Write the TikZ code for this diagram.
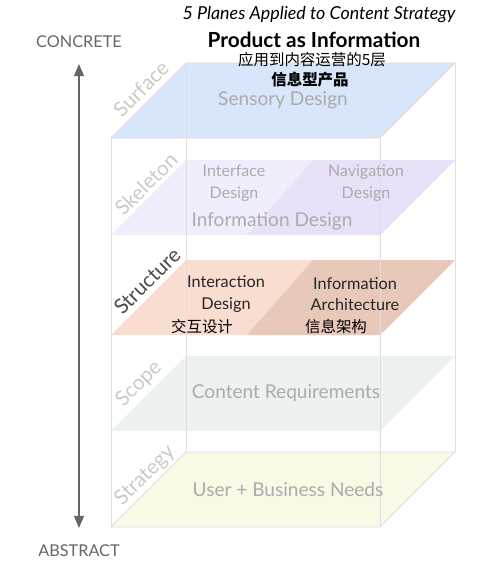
\documentclass[tikz,border=0pt]{standalone}
\usepackage{fontspec}
\setmainfont{Lato}
\newfontfamily\cjk{Noto Sans CJK SC}
\usetikzlibrary{arrows,positioning}
\definecolor{edgegray}{HTML}{DEDEDE}
\definecolor{labgray}{HTML}{ABABAB}
\definecolor{sidegray}{HTML}{CACACA}
\definecolor{axisgray}{HTML}{666666}
\definecolor{surfblue}{HTML}{D7E6FA}
\definecolor{skellite}{HTML}{F2EDFC}
\definecolor{skeldark}{HTML}{EAE1F8}
\definecolor{strulite}{HTML}{F9DDD0}
\definecolor{strudark}{HTML}{E8C8B9}
\definecolor{scopegreen}{HTML}{EDF2EE}
\definecolor{stratyellow}{HTML}{FBF8E6}
\newcommand{\layerplane}[2]{\fill[#1] (111,#2+75) -- (380,#2+75) -- (455,#2) -- (186,#2) -- cycle;}
\tikzset
{
    planelabel/.style = {text=labgray, align=center, font=\fontsize{14.3}{16}\selectfont},
    sublabel/.style   = {text=labgray, align=center, font=\fontsize{12}{16}\selectfont},
    darklabel/.style  = {text=black!85, align=center, font=\fontsize{12.2}{16}\selectfont},
    sidelabel/.style  = {text=sidegray, rotate=45, inner sep=0pt, font=\fontsize{15.5}{16}\selectfont},
    axislabel/.style  = {text=axisgray, font=\fontsize{12.2}{14}\selectfont},
    cjklabel/.style   = {text=black, font=\cjk\fontsize{11.6}{13}\selectfont},
    boxedge/.style    = {draw=edgegray, line width=0.7pt}
}

\begin{document}
\begin{tikzpicture}[x=0.75pt, y=-0.75pt, >=triangle 45]
    \useasboundingbox (0,0) rectangle (498,565);
    % planes
    \layerplane{surfblue}{63}
    \layerplane{skellite}{160}
    \fill[skeldark] (247,235) -- (380,235) -- (455,160) -- (313,160) -- cycle;
    \layerplane{strulite}{260}
    \fill[strudark] (247,335) -- (380,335) -- (455,260) -- (313,260) -- cycle;
    \layerplane{scopegreen}{356}
    \layerplane{stratyellow}{452}
    % box
    \foreach \x/\y in {111/138, 186/63, 380/138, 455/63}
    {
        \draw[boxedge] (\x,\y) -- (\x,\y+389);
    }
    \draw[boxedge] (111,138) -- (380,138) -- (455,63) -- (186,63) -- cycle;
    \draw[boxedge] (111,527) -- (380,527) -- (455,452) -- (186,452) -- cycle;

    % titles
    \node[font=\itshape\fontsize{13.4}{15}\selectfont] (subtitle) at (319,15) {5 Planes Applied to Content Strategy};
    \node[font=\bfseries\fontsize{15.6}{18}\selectfont] (title) at (314,40) {Product as Information};
    \node[cjklabel] (cntitle) at (312,60) {应用到内容运营的5层};
    \node[cjklabel, font=\cjk\bfseries\fontsize{11.6}{13}\selectfont] (cnproduct) at (310,80) {信息型产品};

    % axis
    \node[axislabel] (concrete) at (79,42) {CONCRETE};
    \node[axislabel] (abstract) at (79,551) {ABSTRACT};
    \coordinate (axistop) at (79,64);
    \coordinate (axisbot) at (79,528);
    \draw[<->, axisgray, line width=1.1pt] (axistop) -- (axisbot);

    % side names
    \node[sidelabel] (surface)   at (141,89) {Surface};
    \node[sidelabel] (skeleton)  at (146,184) {Skeleton};
    \node[sidelabel, text=black!70] (structure) at (147,281) {Structure};
    \node[sidelabel] (scope)     at (139,384) {Scope};
    \node[sidelabel] (strategy)  at (145,476) {Strategy};

    % plane contents
    \node[planelabel] (sensory) at (283,100) {Sensory Design};
    \node[sublabel] (interface) at (234,183) {Interface\\Design};
    \node[sublabel] (navigation) at (366,183) {Navigation\\Design};
    \node[planelabel] (infodesign) at (272,221) {Information Design};
    \node[darklabel] (interaction) at (226,294) {Interaction\\Design};
    \node[darklabel] (infoarch) at (355,294) {Information\\Architecture};
    \node[cjklabel] (cninteraction) at (202,327) {交互设计};
    \node[cjklabel] (cninfoarch) at (336,327) {信息架构};
    \node[planelabel] (content) at (286,393) {Content Requirements};
    \node[planelabel] (needs) at (288,490) {User + Business Needs};
\end{tikzpicture}
\end{document}
